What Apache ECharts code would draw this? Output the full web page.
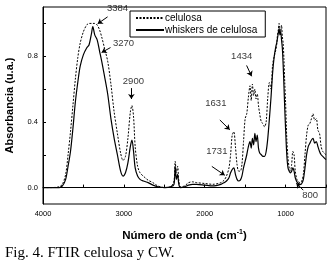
<!DOCTYPE html>
<html>
<head>
<meta charset="utf-8">
<script src="https://cdn.jsdelivr.net/npm/echarts@6/dist/echarts.min.js"></script>
<style>
  html, body { margin: 0; padding: 0; background: #fff; }
  #chart { width: 330px; height: 263px; }
</style>
</head>
<body>
<div id="chart"></div>
<script>
// wavenumber grid (cm-1) shared by both spectra
var wavenumber = [4000, 3900, 3800, 3760, 3720, 3690, 3660, 3630, 3600, 3570, 3540, 3500, 3460, 3430, 3400, 3384, 3360, 3330, 3300, 3270,
  3240, 3200, 3160, 3120, 3080, 3040, 3010, 2980, 2950, 2920, 2900, 2880, 2860, 2830, 2800, 2760, 2700, 2640, 2580, 2500,
  2420, 2380, 2365, 2350, 2335, 2320, 2300, 2250, 2200, 2150, 2100, 2000, 1900, 1800, 1760, 1731, 1700, 1680, 1660, 1640,
  1620, 1600, 1580, 1560, 1540, 1520, 1500, 1480, 1460, 1440, 1425, 1410, 1395, 1380, 1365, 1350, 1335, 1320, 1300, 1280,
  1260, 1240, 1220, 1200, 1180, 1160, 1140, 1120, 1110, 1100, 1090, 1080, 1070, 1060, 1050, 1040, 1030, 1020, 1010, 1000,
  985, 970, 955, 940, 925, 910, 895, 880, 860, 840, 820, 800, 780, 760, 740, 720, 700, 680, 660, 640,
  620, 600, 580, 560, 540, 500];

var celulosa = [0.0, 0.0, 0.005, 0.02, 0.08, 0.2, 0.34, 0.5, 0.66, 0.79, 0.88, 0.95, 0.99, 1.0, 1.0, 1.0, 1.0, 0.99, 0.96, 0.91,
  0.85, 0.77, 0.63, 0.46, 0.33, 0.21, 0.165, 0.19, 0.3, 0.46, 0.5, 0.43, 0.25, 0.13, 0.09, 0.07, 0.045, 0.03, 0.01, 0.0,
  0.005, 0.04, 0.16, 0.09, 0.13, 0.04, 0.005, 0.01, 0.03, 0.035, 0.03, 0.025, 0.02, 0.03, 0.045, 0.07, 0.12, 0.2, 0.32, 0.34,
  0.25, 0.14, 0.1, 0.1, 0.14, 0.28, 0.42, 0.45, 0.55, 0.62, 0.53, 0.63, 0.56, 0.6, 0.54, 0.57, 0.5, 0.45, 0.4, 0.39,
  0.37, 0.4, 0.55, 0.64, 0.6, 0.75, 0.8, 0.84, 0.87, 0.93, 0.96, 1.0, 0.97, 0.95, 0.99, 0.92, 0.88, 0.78, 0.64, 0.52,
  0.3, 0.18, 0.12, 0.1, 0.14, 0.22, 0.2, 0.1, 0.05, 0.035, 0.03, 0.04, 0.08, 0.2, 0.32, 0.38, 0.39, 0.42, 0.45, 0.41,
  0.42, 0.35, 0.33, 0.25, 0.22, 0.2];

var whiskers = [0.0, 0.0, 0.0, 0.01, 0.05, 0.13, 0.22, 0.36, 0.52, 0.64, 0.74, 0.81, 0.85, 0.87, 0.94, 0.98, 0.93, 0.9, 0.83, 0.76,
  0.68, 0.57, 0.42, 0.3, 0.2, 0.1, 0.07, 0.09, 0.15, 0.25, 0.29, 0.22, 0.12, 0.07, 0.05, 0.04, 0.03, 0.015, 0.005, 0.0,
  0.005, 0.02, 0.13, 0.05, 0.08, 0.02, 0.0, 0.005, 0.015, 0.02, 0.02, 0.015, 0.01, 0.02, 0.03, 0.04, 0.06, 0.09, 0.11, 0.12,
  0.08, 0.05, 0.04, 0.045, 0.07, 0.12, 0.16, 0.2, 0.25, 0.28, 0.24, 0.3, 0.26, 0.33, 0.28, 0.32, 0.24, 0.21, 0.2, 0.19,
  0.19, 0.22, 0.3, 0.42, 0.55, 0.7, 0.8, 0.86, 0.88, 0.91, 0.94, 0.97, 0.93, 0.95, 0.9, 0.85, 0.75, 0.62, 0.48, 0.36,
  0.2, 0.12, 0.1, 0.09, 0.1, 0.12, 0.1, 0.06, 0.035, 0.025, 0.02, 0.025, 0.05, 0.12, 0.2, 0.25, 0.27, 0.29, 0.3, 0.27,
  0.28, 0.25, 0.22, 0.2, 0.19, 0.17];

var xTickValues = [4000, 3500, 3000, 2500, 2000, 1500, 1000, 500];
var xLabelValues = [4000, 3000, 2000, 1000];
var yTickValues = [0, 0.2, 0.4, 0.6, 0.8, 1.0];
var yLabelValues = [0, 0.4, 0.8];

// peak labels: [text, label x, label y, arrow from x, from y, arrow to x, to y]
var annotations = [
  ['3384', 3079, 1.09, 3201, 1.04, 3324, 0.998],
  ['3270', 3005, 0.877, 3165, 0.853, 3275, 0.823],
  ['2900', 2882, 0.648, 2907, 0.606, 2907, 0.54],
  ['1434', 1543, 0.80, 1482, 0.744, 1420, 0.678],
  ['1631', 1862, 0.515, 1813, 0.412, 1690, 0.352],
  ['1731', 1850, 0.22, 1912, 0.129, 1752, 0.075],
  ['800', 695, -0.046, 781, -0.016, 867, 0.027]
];

function zip(xs, ys) {
  return xs.map(function (x, i) { return [x, ys[i]]; });
}

var chart = echarts.init(document.getElementById('chart'), null, { renderer: 'canvas' });

var labelFont = { fontFamily: 'Liberation Sans', color: '#000' };

chart.setOption({
  animation: false,
  title: {
    text: 'Fig. 4. FTIR celulosa y CW.',
    left: 0,
    top: 241,
    textStyle: { fontFamily: 'Liberation Serif', fontSize: 15, fontWeight: 'normal', color: '#000' }
  },
  legend: {
    data: ['celulosa', 'whiskers de celulosa'],
    orient: 'vertical',
    left: 130,
    top: 11,
    padding: [2, 8, 2, 5],
    itemGap: 2,
    itemWidth: 28,
    itemHeight: 9,
    itemStyle: { opacity: 0 },
    borderColor: '#000',
    borderWidth: 1,
    borderRadius: 0,
    textStyle: { fontFamily: 'Liberation Sans', fontSize: 10, color: '#000', padding: [0, 0, 0, -4] }
  },
  grid: {
    left: 43, right: 4, top: 7, bottom: 59,
    outerBoundsMode: 'none',
    show: true, borderColor: '#000', borderWidth: 1
  },
  xAxis: {
    type: 'value',
    inverse: true,
    min: 500,
    max: 4000,
    name: 'Número de onda (cm{sup|-1})',
    nameLocation: 'middle',
    nameGap: 25,
    nameTextStyle: {
      fontFamily: 'Liberation Sans', fontSize: 11.5, fontWeight: 'bold', color: '#000',
      rich: { sup: { fontSize: 7, fontWeight: 'bold', verticalAlign: 'top', padding: [0, 0, 7, 0] } }
    },
    splitLine: { show: false },
    axisLine: { lineStyle: { color: '#000', width: 1 } },
    axisTick: { inside: true, length: 3, customValues: xTickValues, lineStyle: { color: '#000' } },
    axisLabel: Object.assign({
      fontSize: 7.5, margin: 6, customValues: xLabelValues,
      formatter: function (v) { return String(v); }
    }, labelFont)
  },
  yAxis: {
    type: 'value',
    min: -0.1,
    max: 1.1,
    name: 'Absorbancia (u.a.)',
    nameLocation: 'middle',
    nameGap: 28,
    nameTextStyle: { fontFamily: 'Liberation Sans', fontSize: 11, fontWeight: 'bold', color: '#000' },
    splitLine: { show: false },
    axisLine: { show: true, lineStyle: { color: '#000', width: 1 } },
    axisTick: { show: true, inside: true, length: 3, customValues: yTickValues, lineStyle: { color: '#000' } },
    axisLabel: Object.assign({
      fontSize: 7.5, margin: 5, customValues: yLabelValues,
      formatter: function (v) { return v.toFixed(1); }
    }, labelFont)
  },
  series: [
    {
      name: 'celulosa',
      type: 'line',
      data: zip(wavenumber, celulosa),
      showSymbol: false,
      symbol: 'none',
      smooth: 0.3,
      itemStyle: { color: '#000' },
      lineStyle: { color: '#000', width: 1, type: [2, 1.5] }
    },
    {
      name: 'whiskers de celulosa',
      type: 'line',
      data: zip(wavenumber, whiskers),
      showSymbol: false,
      symbol: 'none',
      smooth: 0.3,
      itemStyle: { color: '#000' },
      lineStyle: { color: '#000', width: 1.2 }
    },
    {
      name: 'peaks',
      type: 'scatter',
      symbolSize: 0,
      silent: true,
      data: annotations.map(function (a) { return [a[1], a[2], a[0]]; }),
      label: {
        show: true,
        position: 'inside',
        formatter: function (p) { return p.data[2]; },
        fontFamily: 'Liberation Sans',
        fontSize: 9.5,
        color: '#000'
      },
      markLine: {
        silent: true,
        symbol: ['none', 'arrow'],
        symbolSize: 5,
        label: { show: false },
        lineStyle: { color: '#000', width: 1, type: 'solid' },
        data: annotations.map(function (a) {
          return [{ coord: [a[3], a[4]] }, { coord: [a[5], a[6]] }];
        })
      }
    }
  ]
});
</script>
</body>
</html>
